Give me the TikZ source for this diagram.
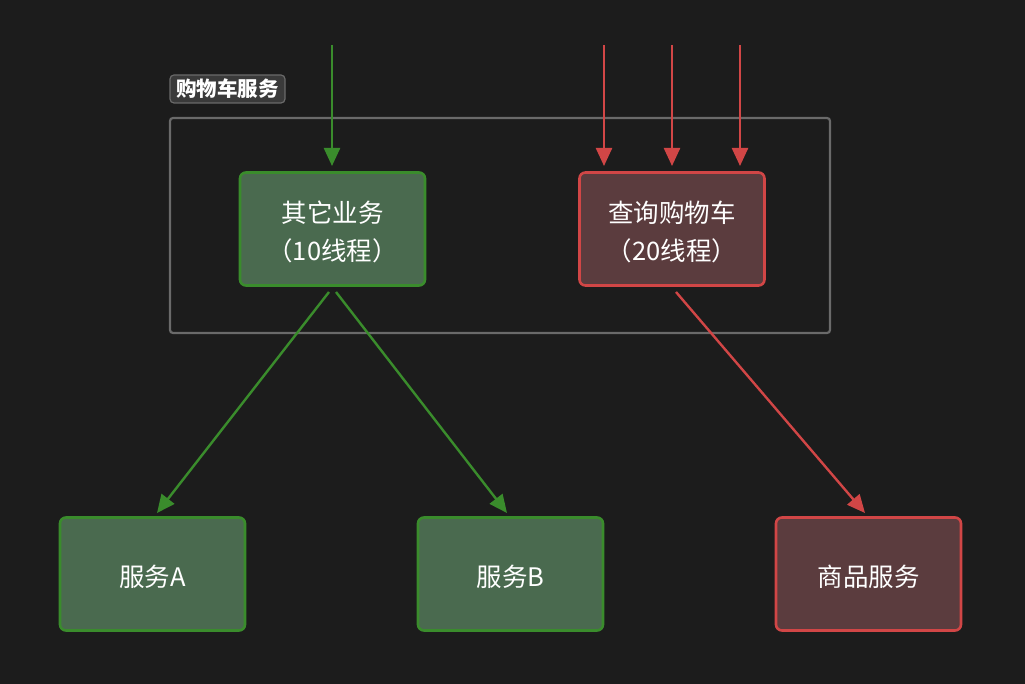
\documentclass[tikz,border=0pt]{standalone}
\usepackage{fontspec}
\setmainfont{Noto Sans CJK SC}
\usetikzlibrary{arrows.meta}
\definecolor{bgc}{HTML}{1C1C1C}
\definecolor{gfill}{HTML}{4A6A4F}
\definecolor{gline}{HTML}{3A8C2C}
\definecolor{rfill}{HTML}{5B3C3E}
\definecolor{rline}{HTML}{D14646}
\definecolor{grayline}{HTML}{6A6A6A}
\definecolor{tagfill}{HTML}{3A3A3A}
\newcommand{\dn}[1]{\raisebox{-3pt}[\height][\depth]{#1}}
\tikzset{
  gbox/.style={draw=gline, fill=gfill, line width=2.6pt, rounded corners=6pt, minimum width=185pt, minimum height=113pt, text=white, font=\fontsize{25.5}{38}\selectfont, align=center, inner sep=0pt},
  rbox/.style={gbox, draw=rline, fill=rfill},
  garrow/.style={draw=gline, line width=2.4pt, -{Triangle[length=18pt,width=16pt]}},
  rarrow/.style={garrow, draw=rline},
}
\begin{document}
\begin{tikzpicture}[x=1pt,y=-1pt]
\fill[bgc] (0,0) rectangle (1025,684);
\useasboundingbox (0,0) rectangle (1025,684);
\draw[grayline, line width=2.2pt, rounded corners=3pt] (170,118) rectangle (830,333);
\node[draw=grayline, fill=tagfill, line width=1.2pt, rounded corners=4pt, text=white, font=\bfseries\fontsize{20.5}{22}\selectfont, inner xsep=2pt, minimum height=28pt, minimum width=115pt] (tag) at (227.5,89) {购物车服务};
\node[gbox] (other) at (332.5,229) {\dn{其它业务}\\\dn{（10线程）}};
\node[rbox] (cart) at (672,229) {\dn{查询购物车}\\\dn{（20线程）}};
\node[gbox] (sa) at (152.5,574) {\dn{服务A}};
\node[gbox] (sb) at (510.5,574) {\dn{服务B}};
\node[rbox] (goods) at (868.5,574) {\dn{商品服务}};
\coordinate (g0) at (332,45);
\coordinate (r1) at (604,45);
\coordinate (r2) at (672,45);
\coordinate (r3) at (740,45);
\coordinate (gs1) at (329,292);
\coordinate (gs2) at (336,292);
\coordinate (rs1) at (676,292);
\coordinate (ta) at (157,513);
\coordinate (tb) at (507,513);
\coordinate (tg) at (865,513);
\draw[garrow] (g0) -- (g0 |- 0,166);
\draw[rarrow] (r1) -- (r1 |- 0,166);
\draw[rarrow] (r2) -- (r2 |- 0,166);
\draw[rarrow] (r3) -- (r3 |- 0,166);
\draw[garrow] (gs1) -- (ta);
\draw[garrow] (gs2) -- (tb);
\draw[rarrow] (rs1) -- (tg);
\end{tikzpicture}
\end{document}
